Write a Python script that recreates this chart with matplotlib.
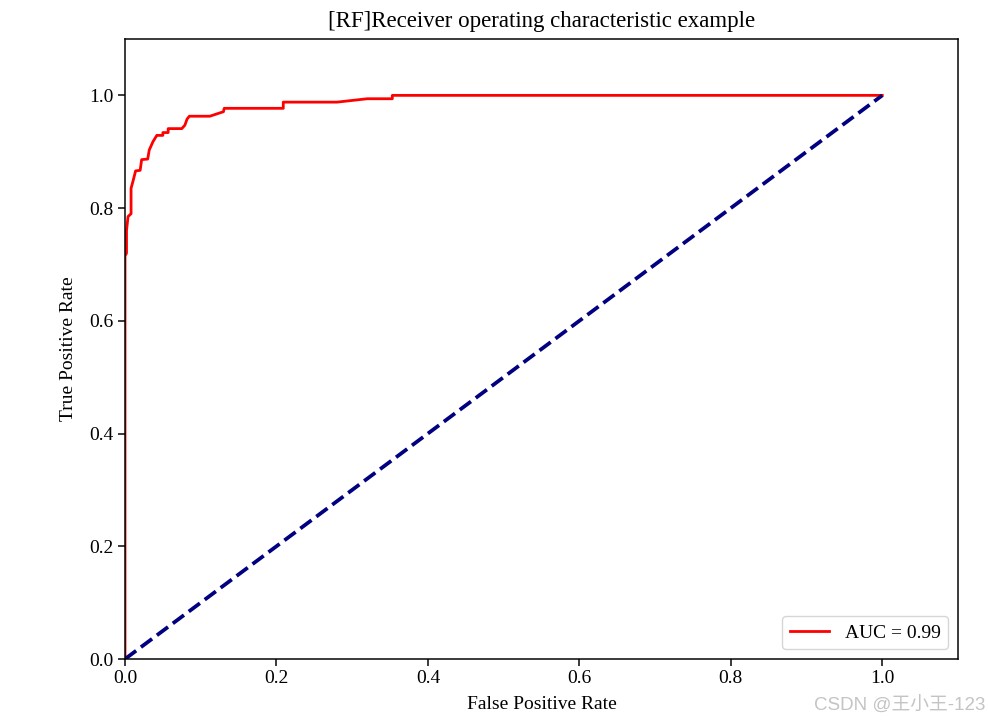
import matplotlib
matplotlib.use("Agg")
import matplotlib.pyplot as plt

# ROC curve points
fpr = [0.0, 0.0, 0.002, 0.002, 0.004, 0.008, 0.008, 0.011, 0.014, 0.02, 0.022,
       0.03, 0.032, 0.037, 0.042, 0.05, 0.05, 0.057, 0.057, 0.075, 0.079,
       0.082, 0.085, 0.112, 0.13, 0.131, 0.209, 0.209, 0.28, 0.32, 0.353,
       0.353, 1.0]
tpr = [0.0, 0.715, 0.72, 0.76, 0.785, 0.79, 0.835, 0.85, 0.866, 0.867, 0.886,
       0.887, 0.903, 0.918, 0.929, 0.929, 0.934, 0.934, 0.941, 0.941, 0.947,
       0.958, 0.963, 0.963, 0.971, 0.977, 0.977, 0.988, 0.988, 0.994, 0.994,
       1.0, 1.0]
diag = [0.0, 1.0]
auc_label = "AUC = 0.99"
title = "[RF]Receiver operating characteristic example"
xticks = [0.0, 0.2, 0.4, 0.6, 0.8, 1.0]
yticks = [0.0, 0.2, 0.4, 0.6, 0.8, 1.0]

plt.rcParams['font.family'] = ['Liberation Serif', 'DejaVu Serif']
fs = 14

fig = plt.figure(figsize=(9.88, 7.24), dpi=100)
ax = fig.add_axes([125/988, 1-659/724, (958-125)/988, (659-39)/724])

ax.plot(fpr, tpr, color='red', lw=2.0, label=auc_label)
ax.plot(diag, diag, color='navy', lw=2.7, linestyle='--')
ax.set_xlim(0, 1.1)
ax.set_ylim(0, 1.1)
ax.set_xticks(xticks)
ax.set_yticks(yticks)
ax.set_xticklabels([f"{t:.1f}" for t in xticks])
ax.set_yticklabels([f"{t:.1f}" for t in yticks])
ax.tick_params(labelsize=fs, length=4.7, width=1.08)
for s in ax.spines.values():
    s.set_linewidth(1.08)
ax.set_xlabel("False Positive Rate", fontsize=fs, labelpad=6)
ax.set_ylabel("True Positive Rate", fontsize=fs, labelpad=9)
ax.set_title(title, fontsize=16.5, pad=9)
leg = ax.legend(loc='lower right', fontsize=fs)

fig.text(0.997, 0.012, "CSDN @王小王-123", ha='right', va='bottom',
         fontsize=13.5, color='#c4c4c4',
         family=['Liberation Sans', 'Noto Sans CJK SC', 'DejaVu Sans'])

fig.savefig("out.png", dpi=100)
